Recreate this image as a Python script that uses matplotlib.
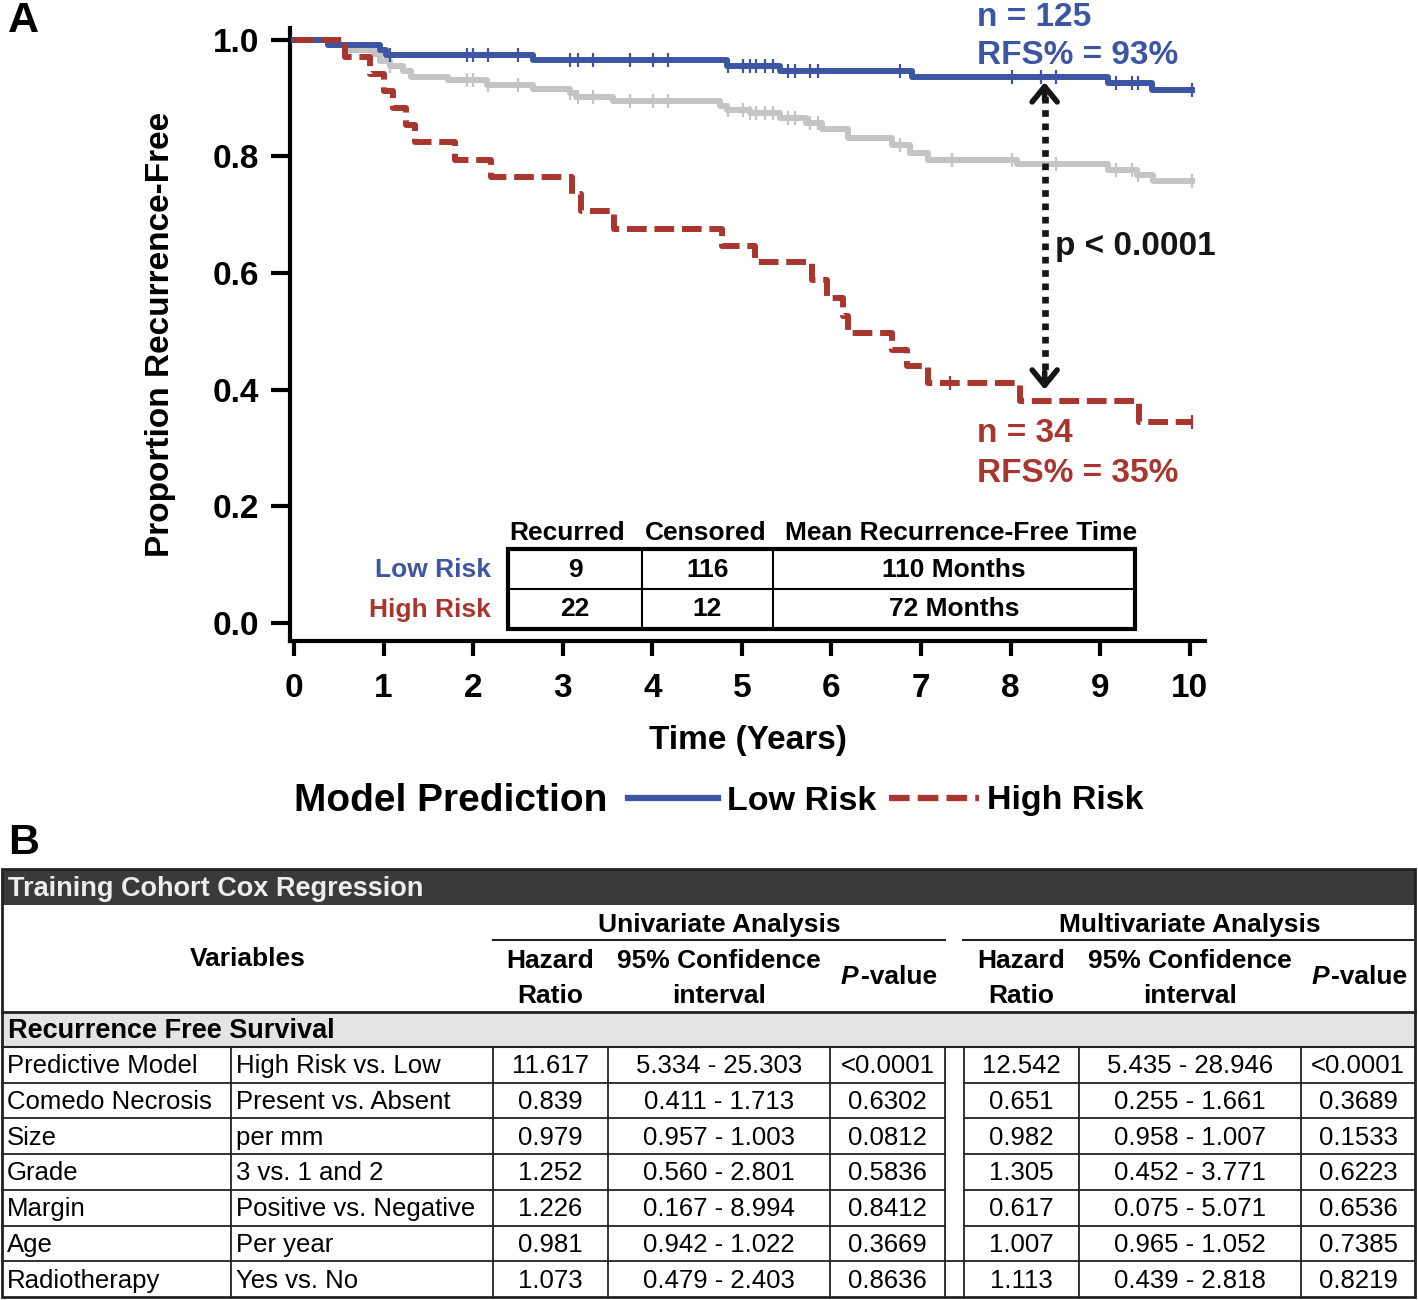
import matplotlib
matplotlib.use('Agg')
import matplotlib.pyplot as plt
from matplotlib.lines import Line2D
from matplotlib.patches import Rectangle
import numpy as np

plt.rcParams['font.family'] = ['Liberation Sans', 'DejaVu Sans']
plt.rcParams['font.weight'] = 'bold'

### panel A data ###
# time (years) of each drop and the survival level after it
low_t = [0, 0.38, 0.96, 1.03, 2.67, 4.83, 5.42, 6.90, 9.09, 9.58, 10.02]
low_s = [1.0, 0.991, 0.983, 0.974, 0.965, 0.955, 0.946, 0.936, 0.925, 0.913, 0.913]
low_cens = [1.07, 1.93, 2.0, 2.17, 2.5, 3.08, 3.17, 3.34, 3.75, 4.01, 4.18, 4.85, 5.01, 5.09,
            5.16, 5.26, 5.35, 5.52, 5.59, 5.76, 5.85, 6.76, 8.01, 8.34, 8.51, 9.18, 9.35, 9.42, 10.02]

high_t = [0, 0.57, 0.85, 1.0, 1.1, 1.25, 1.35, 1.8, 2.2, 3.1, 3.2, 3.57, 4.78, 5.15, 5.78,
          5.95, 6.13, 6.18, 6.68, 6.84, 7.08, 8.1, 9.43, 10.02]
high_s = [1.0, 0.971, 0.941, 0.912, 0.882, 0.853, 0.824, 0.794, 0.765, 0.735, 0.706, 0.676,
          0.647, 0.618, 0.588, 0.557, 0.527, 0.497, 0.468, 0.44, 0.411, 0.38, 0.345, 0.345]
high_cens = [7.32, 10.02]

# whole cohort (grey curve behind the two groups)
all_t = [0, 0.38, 0.59, 0.89, 0.96, 1.07, 1.22, 1.31, 1.72, 2.15, 2.67, 3.08, 3.15, 3.56, 4.75,
         4.83, 5.09, 5.42, 5.72, 5.89, 6.18, 6.68, 6.88, 7.08, 8.07, 9.09, 9.41, 9.59, 10.02]
all_s = [1.0, 0.991, 0.983, 0.975, 0.963, 0.954, 0.946, 0.936, 0.930, 0.923, 0.915, 0.908, 0.901,
         0.894, 0.887, 0.880, 0.874, 0.866, 0.857, 0.846, 0.831, 0.820, 0.806, 0.794, 0.786,
         0.777, 0.768, 0.757, 0.757]
all_cens = [1.07, 1.93, 2.0, 2.17, 2.5, 3.08, 3.17, 3.34, 3.75, 4.01, 4.18, 4.85, 5.01, 5.09,
            5.16, 5.26, 5.35, 5.52, 5.59, 5.76, 5.85, 6.76, 7.34, 8.01, 8.51, 9.18, 9.35, 9.42, 10.02]

# numbers printed on the plot
n_low, rfs_low = 125, 93
n_high, rfs_high = 34, 35
p_text = 'p < 0.0001'
compare_time = 8.38  # where the dotted arrow sits

# small table inside the plot
risk_groups = ['Low Risk', 'High Risk']
recurred = [9, 22]
censored = [116, 12]
mean_rft = [110, 72]

### panel B data, cox regression table ###
variables = ['Predictive Model', 'Comedo Necrosis', 'Size', 'Grade', 'Margin', 'Age', 'Radiotherapy']
comparisons = ['High Risk vs. Low', 'Present vs. Absent', 'per mm', '3 vs. 1 and 2',
               'Positive vs. Negative', 'Per year', 'Yes vs. No']
uni_hr = ['11.617', '0.839', '0.979', '1.252', '1.226', '0.981', '1.073']
uni_ci = ['5.334 - 25.303', '0.411 - 1.713', '0.957 - 1.003', '0.560 - 2.801',
          '0.167 - 8.994', '0.942 - 1.022', '0.479 - 2.403']
uni_p = ['<0.0001', '0.6302', '0.0812', '0.5836', '0.8412', '0.3669', '0.8636']
multi_hr = ['12.542', '0.651', '0.982', '1.305', '0.617', '1.007', '1.113']
multi_ci = ['5.435 - 28.946', '0.255 - 1.661', '0.958 - 1.007', '0.452 - 3.771',
            '0.075 - 5.071', '0.965 - 1.052', '0.439 - 2.818']
multi_p = ['<0.0001', '0.3689', '0.1533', '0.6223', '0.6536', '0.7385', '0.8219']

# colours
blue = '#3c56a3'
red = '#a8362e'
grey = '#c4c4c4'
ink = '#161616'

W, H = 1418, 1300
fig = plt.figure(figsize=(W / 100, H / 100), dpi=100)

### kaplan-meier panel ###
ax = fig.add_axes([290 / W, 1 - 641 / H, 915 / W, 613 / H])


def level_at(times, surv, when):
    # survival of a step curve at the given censor times
    idx = np.searchsorted(times, when, side='right') - 1
    return np.asarray(surv)[idx]


ax.step(all_t, all_s, where='post', color=grey, lw=4.3, zorder=2)
ax.plot(all_cens, level_at(all_t, all_s, all_cens), ls='none', marker='|', ms=10, mew=1.6, color=grey, zorder=2)

low_line, = ax.step(low_t, low_s, where='post', color=blue, lw=4.3, zorder=3)
ax.plot(low_cens, level_at(low_t, low_s, low_cens), ls='none', marker='|', ms=10, mew=1.6, color=blue, zorder=3)

high_line, = ax.step(high_t, high_s, where='post', color=red, lw=4.3, ls=(0, (3.3, 1.3)), zorder=4)
ax.plot(high_cens, level_at(high_t, high_s, high_cens), ls='none', marker='|', ms=10, mew=1.6, color=red, zorder=4)

# dotted double arrow between the two groups, heads just short of each curve
low_here = level_at(low_t, low_s, [compare_time])[0]
high_here = level_at(high_t, high_s, [compare_time])[0]
top_tip, bot_tip = low_here - 0.009, high_here + 0.02
ax.plot([compare_time, compare_time], [bot_tip + 0.012, top_tip - 0.012], color=ink, lw=4.8,
        ls=(0, (1, 1)), solid_capstyle='butt', zorder=5)
for tip, tail in [(top_tip, top_tip - 0.03), (bot_tip, bot_tip + 0.03)]:
    ax.annotate('', xy=(compare_time, tip), xytext=(compare_time, tail),
                arrowprops=dict(arrowstyle='->,head_length=0.55,head_width=0.45', lw=4, color=ink,
                                mutation_scale=20, shrinkA=0, shrinkB=0), zorder=6)

ax.set_xlim(-0.045, 10.17)
ax.set_ylim(-0.031, 1.02)
ax.set_xticks(range(11))
ax.set_yticks([0, 0.2, 0.4, 0.6, 0.8, 1.0])
ax.set_yticklabels([f'{v:.1f}' for v in [0, 0.2, 0.4, 0.6, 0.8, 1.0]])
ax.tick_params(axis='both', width=3, labelsize=24, colors='black')
ax.tick_params(axis='x', length=11, pad=12)
ax.tick_params(axis='y', length=14, pad=8)
for side in ['top', 'right']:
    ax.spines[side].set_visible(False)
for side in ['left', 'bottom']:
    ax.spines[side].set_linewidth(3)
ax.set_ylabel('Proportion Recurrence-Free', fontsize=24, fontweight='bold')
ax.yaxis.set_label_coords(-0.125, 0.5)
ax.set_xlabel('Time (Years)', fontsize=24, fontweight='bold')
ax.xaxis.set_label_coords(0.5, -0.137)

# legend along the bottom of panel A
fig.text(294 / W, 1 - 801 / H, 'Model Prediction', fontsize=28, fontweight='bold', va='center')
leg_handles = [Line2D([], [], color=blue, lw=4.5),
               Line2D([], [], color=red, lw=4.5, ls=(0, (3.3, 1.3)))]
fig.legend(leg_handles, risk_groups, loc='center left', bbox_to_anchor=(628 / W, 1 - 801 / H),
           ncol=2, frameon=False, prop=dict(size=24.5, weight='bold'), handlelength=2.65,
           handletextpad=0.25, columnspacing=0.37, borderpad=0, borderaxespad=0)

### pixel canvas for labels and tables ###
cv = fig.add_axes([0, 0, 1, 1])
cv.set_xlim(0, W)
cv.set_ylim(H, 0)
cv.axis('off')

cv.text(8, 21, 'A', fontsize=31, fontweight='bold', va='center')
cv.text(8, 843, 'B', fontsize=31, fontweight='bold', va='center')

cv.text(977, 17, f'n = {n_low}', color=blue, fontsize=24, va='center')
cv.text(977, 56, f'RFS% = {rfs_low}%', color=blue, fontsize=24, va='center')
cv.text(977, 434, f'n = {n_high}', color=red, fontsize=24, va='center')
cv.text(977, 473, f'RFS% = {rfs_high}%', color=red, fontsize=24, va='center')
cv.text(1055, 246, p_text, color=ink, fontsize=24, va='center')

# inset table
tx = [508, 642, 773, 1135]
ty = [549, 589, 629]
cv.add_patch(Rectangle((tx[0], ty[0]), tx[-1] - tx[0], ty[-1] - ty[0], fill=False, lw=3, ec='black'))
cv.plot([tx[0], tx[-1]], [ty[1], ty[1]], color='black', lw=1.5)
for x in tx[1:3]:
    cv.plot([x, x], [ty[0], ty[-1]], color='black', lw=1.5)
for txt, xc in zip(['Recurred', 'Censored', 'Mean Recurrence-Free Time'], [567, 706, 961]):
    cv.text(xc, 533, txt, fontsize=19, ha='center', va='center')
for i, (grp, col) in enumerate(zip(risk_groups, [blue, red])):
    yc = 570 + i * 39.5
    cv.text(491, yc, grp, fontsize=19, color=col, ha='right', va='center')
    cells = [str(recurred[i]), str(censored[i]), f'{mean_rft[i]} Months']
    for j, txt in enumerate(cells):
        cv.text((tx[j] + tx[j + 1]) / 2, yc, txt, fontsize=19, ha='center', va='center')

# cox regression table
L, R = 2, 1415
top, bot = 869, 1297
cv.add_patch(Rectangle((L, top), R - L, 36, fc='#3b3a3b', ec='none'))
cv.add_patch(Rectangle((L, 1013), R - L, 34, fc='#e4e4e4', ec='none'))
cv.add_patch(Rectangle((L, top), R - L, bot - top, fill=False, lw=2, ec='#222222'))
cv.text(8, 889, 'Training Cohort Cox Regression', color='#eeeeee', fontsize=19.5, va='center')
cv.text(8, 1031, 'Recurrence Free Survival', fontsize=19.5, va='center')

cv.plot([L, R], [1012, 1012], color='#222222', lw=2)
cv.plot([L, R], [1047, 1047], color='#222222', lw=1.5)
cv.plot([493, 945], [940, 940], color='#222222', lw=1.5)
cv.plot([963, 1413], [940, 940], color='#222222', lw=1.5)

cv.text(248, 959, 'Variables', fontsize=19, ha='center', va='center')
group_titles = ['Univariate Analysis', 'Multivariate Analysis']
group_left = [493, 964]
col_w = [115, 222, 115]
for g, (title, gx) in enumerate(zip(group_titles, group_left)):
    edges = np.cumsum([gx] + col_w)
    cv.text((edges[0] + edges[-1]) / 2, 925, title, fontsize=19, ha='center', va='center')
    cv.text((edges[0] + edges[1]) / 2, 961, 'Hazard', fontsize=19, ha='center', va='center')
    cv.text((edges[0] + edges[1]) / 2, 996, 'Ratio', fontsize=19, ha='center', va='center')
    cv.text((edges[1] + edges[2]) / 2, 961, '95% Confidence', fontsize=19, ha='center', va='center')
    cv.text((edges[1] + edges[2]) / 2, 996, 'interval', fontsize=19, ha='center', va='center')
    pc = (edges[2] + edges[3]) / 2
    cv.text(pc - 29, 977, 'P', fontsize=19, style='italic', ha='right', va='center')
    cv.text(pc - 27, 977, '-value', fontsize=19, ha='left', va='center')

row_h = 35.7
row_top = 1047
n_rows = len(variables)
for i in range(n_rows):
    yb = row_top + (i + 1) * row_h
    if i < n_rows - 1:
        cv.plot([L, 945], [yb, yb], color='#222222', lw=1.3)
        cv.plot([964, R], [yb, yb], color='#222222', lw=1.3)
cv.plot([945, 964], [row_top + (n_rows - 1) * row_h] * 2, color='#222222', lw=1.3)
for x in [231, 493, 608, 830, 945, 964, 1079, 1301]:
    cv.plot([x, x], [row_top, bot], color='#222222', lw=1.3)

uni_cols = [550.5, 719, 887.5]
multi_cols = [1021.5, 1190, 1358]
for i in range(n_rows):
    yc = row_top + (i + 0.5) * row_h + 1.5
    cv.text(7, yc, variables[i], fontsize=18.5, fontweight='normal', va='center')
    cv.text(236, yc, comparisons[i], fontsize=18.5, fontweight='normal', va='center')
    for xc, vals in zip(uni_cols + multi_cols, [uni_hr, uni_ci, uni_p, multi_hr, multi_ci, multi_p]):
        cv.text(xc, yc, vals[i], fontsize=18.5, fontweight='normal', ha='center', va='center')

fig.savefig('out.png', dpi=100)
